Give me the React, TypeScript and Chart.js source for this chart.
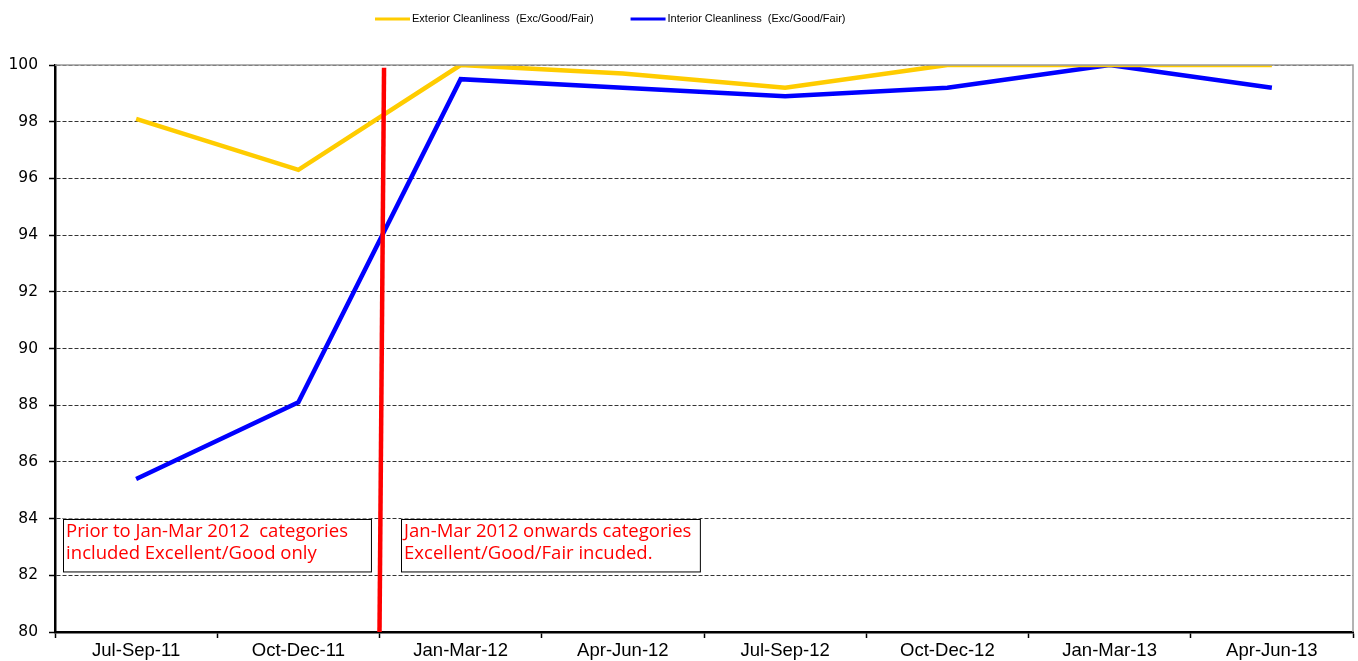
import React, { useEffect, useRef } from "react";
import { Chart, registerables } from "chart.js";

Chart.register(...registerables);

const categories = [
  "Jul-Sep-11",
  "Oct-Dec-11",
  "Jan-Mar-12",
  "Apr-Jun-12",
  "Jul-Sep-12",
  "Oct-Dec-12",
  "Jan-Mar-13",
  "Apr-Jun-13",
];
const exteriorValues = [98.1, 96.3, 100, 99.7, 99.2, 100, 100, 100];
const interiorValues = [85.4, 88.1, 99.5, 99.2, 98.9, 99.2, 100, 99.2];
const seriesLabels = [
  "Exterior Cleanliness  (Exc/Good/Fair)",
  "Interior Cleanliness  (Exc/Good/Fair)",
];
const yMin = 80;
const yMax = 100;
const yStep = 2;

// divider line (category index, value)
const dividerTop = { index: 1.528, value: 99.9 };
const dividerBottom = { index: 1.5, value: 80 };

// annotation notes
const noteBefore = ["Prior to Jan-Mar 2012  categories", "included Excellent/Good only"];
const noteAfter = ["Jan-Mar 2012 onwards categories", "Excellent/Good/Fair incuded."];
const noteBoxes = [
  { lines: noteBefore, x0: -0.45, x1: 1.448, yTop: 84, yBottom: 82.15 },
  { lines: noteAfter, x0: 1.633, x1: 3.475, yTop: 84, yBottom: 82.15 },
];

const YELLOW = "#FFCC00";
const BLUE = "#0000FF";

const overlayPlugin = {
  id: "overlay",
  afterDatasetsDraw(chart: any) {
    const { ctx, chartArea, scales } = chart;
    const x = scales.x;
    const y = scales.y;
    ctx.save();
    // gray top and right border
    ctx.strokeStyle = "#9a9a9a";
    ctx.lineWidth = 1.5;
    ctx.beginPath();
    ctx.moveTo(chartArea.left, chartArea.top);
    ctx.lineTo(chartArea.right, chartArea.top);
    ctx.lineTo(chartArea.right, chartArea.bottom);
    ctx.stroke();

    // red divider
    ctx.strokeStyle = "#FF0000";
    ctx.lineWidth = 4.5;
    ctx.beginPath();
    ctx.moveTo(x.getPixelForValue(dividerTop.index), y.getPixelForValue(dividerTop.value));
    ctx.lineTo(x.getPixelForValue(dividerBottom.index), y.getPixelForValue(dividerBottom.value));
    ctx.stroke();

    // note boxes
    noteBoxes.forEach((b) => {
      const l = x.getPixelForValue(b.x0);
      const r = x.getPixelForValue(b.x1);
      const t = y.getPixelForValue(b.yTop);
      const bt = y.getPixelForValue(b.yBottom);
      ctx.fillStyle = "#ffffff";
      ctx.fillRect(l, t, r - l, bt - t);
      ctx.strokeStyle = "#000000";
      ctx.lineWidth = 1;
      ctx.strokeRect(Math.round(l) + 0.5, Math.round(t) + 0.5, r - l, bt - t);
      ctx.fillStyle = "#FF0000";
      ctx.font = "18.5px 'Open Sans'";
      ctx.textBaseline = "middle";
      ctx.textAlign = "left";
      b.lines.forEach((line, i) => {
        ctx.fillText(line, l + 3, t + 13 + i * 22.5);
      });
    });
    ctx.restore();
  },
  afterDraw(chart: any) {
    const { ctx } = chart;
    ctx.save();
    ctx.font = "11px 'Liberation Sans'";
    ctx.textBaseline = "middle";
    ctx.textAlign = "left";
    let cx = 375;
    const cy = 19;
    chart.data.datasets.forEach((ds: any) => {
      ctx.fillStyle = ds.borderColor;
      ctx.fillRect(cx, cy - 1.5, 35, 3);
      cx += 37;
      ctx.fillStyle = "#000000";
      ctx.fillText(ds.label, cx, cy);
      cx += ctx.measureText(ds.label).width + 37;
    });
    ctx.restore();
  },
};

export default function App() {
  const canvasRef = useRef<HTMLCanvasElement | null>(null);

  useEffect(() => {
    document.body.style.margin = "0";
    document.body.style.overflow = "hidden";
    const canvas = canvasRef.current;
    if (!canvas) return;
    const chart = new Chart(canvas, {
      type: "line",
      data: {
        labels: categories,
        datasets: [
          {
            label: seriesLabels[0],
            data: exteriorValues,
            borderColor: YELLOW,
            backgroundColor: YELLOW,
            borderWidth: 4.5,
            pointRadius: 0,
            tension: 0,
          },
          {
            label: seriesLabels[1],
            data: interiorValues,
            borderColor: BLUE,
            backgroundColor: BLUE,
            borderWidth: 4.5,
            pointRadius: 0,
            tension: 0,
          },
        ],
      },
      options: {
        responsive: false,
        animation: false,
        layout: { padding: { top: 65, right: 5, left: 0, bottom: 0 } },
        plugins: {
          legend: { display: false },
          tooltip: { enabled: false },
        },
        scales: {
          x: {
            offset: true,
            grid: {
              offset: true,
              drawOnChartArea: false,
              drawTicks: true,
              tickLength: 6,
              tickColor: "#000000",
              tickWidth: 1.5,
            },
            border: { display: true, color: "#000000", width: 2.5 },
            ticks: {
              color: "#000000",
              font: { family: "'Liberation Sans'", size: 18.5 },
              padding: 2,
              maxRotation: 0,
              autoSkip: false,
            },
            afterFit: (s: any) => {
              s.height = 29;
            },
          },
          y: {
            min: yMin,
            max: yMax,
            ticks: {
              stepSize: yStep,
              color: "#000000",
              font: { family: "'DejaVu Sans'", size: 15.5 },
              padding: 11,
            },
            grid: {
              color: "#333333",
              lineWidth: 1,
              drawTicks: true,
              tickLength: 6,
              tickColor: "#000000",
              tickBorderDash: [],
              tickWidth: 1.5,
            },
            border: { display: true, color: "#000000", width: 2.5, dash: [4, 2] },
            afterFit: (s: any) => {
              s.width = 55;
            },
          },
        },
      },
      plugins: [overlayPlugin],
    });
    return () => chart.destroy();
  }, []);

  return (
    <div style={{ width: 1358, height: 661 }}>
      <canvas ref={canvasRef} width={1358} height={661} style={{ display: "block" }} />
    </div>
  );
}
